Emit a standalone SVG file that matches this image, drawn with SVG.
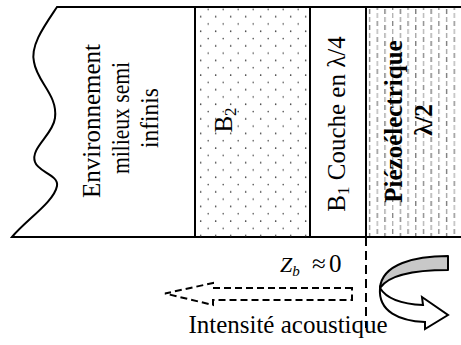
<svg xmlns="http://www.w3.org/2000/svg" width="461" height="345" viewBox="0 0 461 345">
<style>
.ln{stroke:#000;stroke-width:2;fill:none}
.t{font-family:"Liberation Serif","Times New Roman",serif;font-size:25px;fill:#000}
.b{font-weight:bold}
.dash{stroke:#000;stroke-width:2;fill:none;stroke-dasharray:7 4}
</style>
<defs>
<pattern id="dots" patternUnits="userSpaceOnUse" x="0" y="0" width="15" height="14.6">
<circle cx="5.7" cy="2.1" r="0.8" fill="#333"/>
<circle cx="13.2" cy="9.4" r="0.8" fill="#555"/>
</pattern>
<pattern id="vd" patternUnits="userSpaceOnUse" x="366" y="0" width="15.4" height="16">
<rect x="3" y="1" width="1.2" height="5" fill="#999"/>
<rect x="3" y="9" width="1.2" height="5" fill="#666"/>
<rect x="10.7" y="5" width="1.2" height="5" fill="#777"/>
<rect x="10.7" y="13" width="1.2" height="3" fill="#aaa"/>
<rect x="10.7" y="0" width="1.2" height="2" fill="#aaa"/>
</pattern>
</defs>
<g id="environnement">
<path class="ln" d="M461,7 L57,7 C45,25 30,45 34,62 C37,82 58,95 55,118 C53,135 30,148 35,162 C38,172 59,175 57,186 C54,202 26,220 12,237 L461,237"/>
<text class="t" text-anchor="middle" transform="translate(100,121) rotate(-90)">Environnement</text>
<text class="t" text-anchor="middle" transform="translate(129,118) rotate(-90)" textLength="112" lengthAdjust="spacingAndGlyphs">milieux semi</text>
<text class="t" text-anchor="middle" transform="translate(158,118) rotate(-90)" textLength="60" lengthAdjust="spacingAndGlyphs">infinis</text>
</g>
<g id="b2">
<rect x="195" y="7" width="115" height="230" fill="url(#dots)"/>
<line class="ln" x1="195" y1="7" x2="195" y2="237"/>
<text class="t" text-anchor="middle" transform="translate(232,120) rotate(-90)">B<tspan font-size="17" dy="4">2</tspan></text>
</g>
<g id="b1">
<line class="ln" x1="310" y1="7" x2="310" y2="237"/>
<text class="t" text-anchor="middle" transform="translate(345,124) rotate(-90)">B<tspan font-size="17" dy="4">1</tspan><tspan dy="-4"> Couche en λ/4</tspan></text>
</g>
<g id="piezo">
<rect x="366" y="8" width="95" height="228" fill="url(#vd)"/>
<line class="ln" x1="366" y1="7" x2="366" y2="237"/>
<text class="t b" text-anchor="middle" transform="translate(402,121.5) rotate(-90)">Piézoélectrique</text>
<text class="t b" text-anchor="middle" transform="translate(432,120) rotate(-90)">λ/2</text>
</g>
<g id="connectors">
<line x1="366" y1="237" x2="366" y2="328" stroke="#000" stroke-width="2" stroke-dasharray="9 5"/>
<path class="dash" d="M352,288 L213,288 L213,283 L165,293.5 L213,305 L213,300 L352,300 Z"/>
</g>
<g id="zb">
<text class="t" x="280" y="272"><tspan font-style="italic" font-size="22">Z</tspan><tspan font-style="italic" font-size="15" dy="4">b</tspan><tspan x="312" dy="-4">≈</tspan><tspan x="329">0</tspan></text>
</g>
<g id="reflexion">
<path d="M448,256 C415,256 382,264 380,288 C388,276 410,270 448,270 Z" fill="#c8c8c8" stroke="#000" stroke-width="2" stroke-linejoin="round"/>
<path d="M380,288 C386,298 400,304 423,305 L422,297 L448,315 L425,329 L425,322 C400,321 378,312 380,288 Z" fill="#fff" stroke="#000" stroke-width="2" stroke-linejoin="miter"/>
</g>
<g id="intensite">
<text class="t" x="288" y="333" text-anchor="middle">Intensité acoustique</text>
</g>
</svg>
